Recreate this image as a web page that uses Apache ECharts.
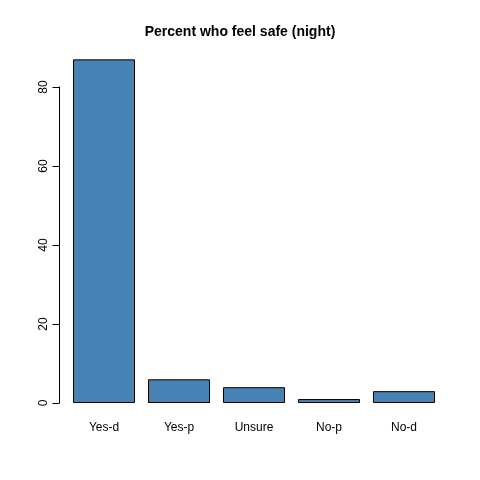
<!DOCTYPE html>
<html>
<head>
<meta charset="utf-8">
<script src="https://cdn.jsdelivr.net/npm/echarts@6/dist/echarts.min.js"></script>
</head>
<body style="margin:0">
<div id="main" style="width:480px;height:480px;"></div>
<script>
var categories = ['Yes-d', 'Yes-p', 'Unsure', 'No-p', 'No-d'];
var values = [87, 6, 4, 1, 3];
var yTicks = [0, 20, 40, 60, 80];

var chart = echarts.init(document.getElementById('main'));
chart.setOption({
    animation: false,
    backgroundColor: '#fff',
    title: {
        text: 'Percent who feel safe (night)',
        left: 'center', top: 20,
        textStyle: {fontFamily: 'Liberation Sans', fontSize: 14, fontWeight: 'bold', color: '#000'}
    },
    grid: {left: 66.5, right: 38.5, top: 87, bottom: 77},
    xAxis: {
        type: 'category',
        data: categories,
        axisLine: {show: false},
        axisTick: {show: false},
        axisLabel: {margin: 19, fontFamily: 'Liberation Sans', fontSize: 12, color: '#000'}
    },
    yAxis: {
        type: 'value',
        min: yTicks[0], max: yTicks[yTicks.length - 1], interval: 20,
        offset: 7,
        splitLine: {show: false},
        axisLine: {show: true, lineStyle: {color: '#000'}},
        axisTick: {show: true, length: 7, lineStyle: {color: '#000'}},
        axisLabel: {rotate: 90, margin: 10, fontFamily: 'Liberation Sans', fontSize: 12, color: '#000'}
    },
    series: [{
        type: 'bar',
        data: values,
        clip: false,
        barCategoryGap: '17.3%',
        itemStyle: {color: '#4682B4', borderColor: '#000', borderWidth: 1}
    }]
});
</script>
</body>
</html>
